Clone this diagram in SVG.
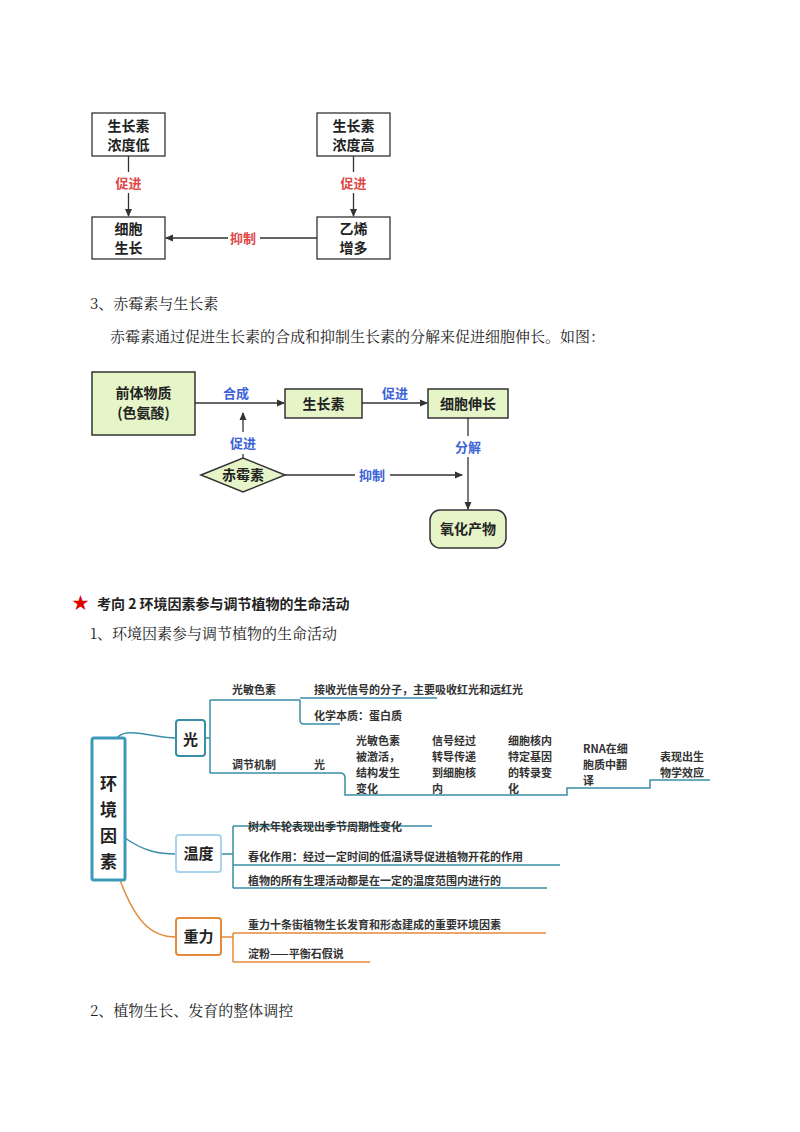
<svg xmlns="http://www.w3.org/2000/svg" width="800" height="1132" viewBox="0 0 800 1132">
<defs>
<marker id="ah" markerWidth="8" markerHeight="8" refX="7" refY="4" orient="auto" markerUnits="userSpaceOnUse"><path d="M0,0.5 L8,4 L0,7.5 Z" fill="#333"/></marker>
<style>
text{font-family:"Noto Sans CJK SC","Liberation Sans",sans-serif;fill:#222}
.b{font-weight:bold}
.box{fill:#fff;stroke:#333;stroke-width:1.3}
.g{fill:#e6f5c8;stroke:#333;stroke-width:1.5}
.ln{stroke:#333;stroke-width:1.3;fill:none}
.red{fill:#e04848;font-size:13px;font-weight:bold}
.blue{fill:#3d63d8;font-size:13px;font-weight:bold}
.t{stroke:#3a8fa8;stroke-width:1.5;fill:none}
.o{stroke:#e58a3b;stroke-width:1.5;fill:none}
.m{font-size:11px;font-weight:bold;fill:#333}
.body{font-family:"Noto Serif CJK SC","Liberation Serif","Noto Sans CJK SC",serif;font-size:15px}
</style>
</defs>
<g id="top">
<g id="n1"><rect class="box" x="92" y="113" width="73" height="43"/><text class="b" x="128.5" y="131" font-size="14" text-anchor="middle">生长素</text><text class="b" x="128.5" y="150" font-size="14" text-anchor="middle">浓度低</text></g>
<g id="n2"><rect class="box" x="317" y="113" width="73" height="43"/><text class="b" x="353.5" y="131" font-size="14" text-anchor="middle">生长素</text><text class="b" x="353.5" y="150" font-size="14" text-anchor="middle">浓度高</text></g>
<g id="n3"><rect class="box" x="92" y="217" width="73" height="42"/><text class="b" x="128.5" y="234" font-size="14" text-anchor="middle">细胞</text><text class="b" x="128.5" y="253" font-size="14" text-anchor="middle">生长</text></g>
<g id="n4"><rect class="box" x="317" y="217" width="73" height="42"/><text class="b" x="353.5" y="234" font-size="14" text-anchor="middle">乙烯</text><text class="b" x="353.5" y="253" font-size="14" text-anchor="middle">增多</text></g>
</g>
<g id="connectors">
<path class="ln" d="M128.5,156 V172 M128.5,193 V216" marker-end="url(#ah)"/>
<path class="ln" d="M353.5,156 V172 M353.5,193 V216" marker-end="url(#ah)"/>
<path class="ln" d="M317,238 H260 M228,238 H166" marker-end="url(#ah)"/>
<path class="ln" d="M195,403 H284" marker-end="url(#ah)"/>
<path class="ln" d="M362,403 H427" marker-end="url(#ah)"/>
<path class="ln" d="M243,458 V454 M243,432 V413" marker-end="url(#ah)"/>
<path class="ln" d="M285,475 H355 M390,475 H462" marker-end="url(#ah)"/>
<path class="ln" d="M468,418 V436 M468,457 V509" marker-end="url(#ah)"/>
</g>
<text class="red" x="128.5" y="188" text-anchor="middle">促进</text>
<text class="red" x="353.5" y="188" text-anchor="middle">促进</text>
<text class="red" x="243" y="243" text-anchor="middle">抑制</text>
<text class="body" x="90" y="309">3、赤霉素与生长素</text>
<text class="body" x="110" y="342">赤霉素通过促进生长素的合成和抑制生长素的分解来促进细胞伸长。如图：</text>
<g id="m1"><rect class="g" x="92" y="372" width="103" height="63"/><text class="b" x="143.5" y="398" font-size="14" text-anchor="middle">前体物质</text><text class="b" x="143.5" y="418" font-size="14" text-anchor="middle">(色氨酸)</text></g>
<g id="m2"><rect class="g" x="285" y="389" width="77" height="29"/><text class="b" x="323.5" y="409" font-size="14" text-anchor="middle">生长素</text></g>
<g id="m3"><rect class="g" x="428" y="389" width="80" height="29"/><text class="b" x="468" y="409" font-size="14" text-anchor="middle">细胞伸长</text></g>
<g id="m4"><path class="g" d="M201,475 L243,458 L285,475 L243,492 Z"/><text class="b" x="243" y="480" font-size="14" text-anchor="middle">赤霉素</text></g>
<g id="m5"><rect class="g" x="430" y="510" width="76" height="38" rx="10"/><text class="b" x="468" y="534" font-size="14" text-anchor="middle">氧化产物</text></g>
<text class="blue" x="236" y="398" text-anchor="middle">合成</text>
<text class="blue" x="395" y="398" text-anchor="middle">促进</text>
<text class="blue" x="243" y="448" text-anchor="middle">促进</text>
<text class="blue" x="372" y="480" text-anchor="middle">抑制</text>
<text class="blue" x="468" y="452" text-anchor="middle">分解</text>
<text x="72" y="609" font-size="17" fill="#e00000" style="fill:#e00000">★</text>
<text class="b" x="97" y="609" font-size="14">考向 2  环境因素参与调节植物的生命活动</text>
<text class="body" x="90" y="639">1、环境因素参与调节植物的生命活动</text>
<text class="body" x="90" y="1016">2、植物生长、发育的整体调控</text>
<g id="mindmap-lines">
<path class="t" d="M115,740 C125,725 150,738 176,738" stroke-width="3"/>
<path class="t" d="M125,838 C145,852 160,854 176,854" stroke-width="2.5"/>
<path class="o" d="M120,880 C135,920 150,937 176,937" stroke-width="2.5"/>
<path class="t" d="M205,738 H210 M210,700 V773 M210,700 H300 M210,773 H300 M300,700 V720 Q300,724 304,724 H340 M300,698 H437 M300,773 H340 Q345,773 345,778 V795 H567 V788 H650 V780 H710" stroke-width="1.2"/>
<path class="t" d="M221,854 H233 M233,826 V888 M233,826 H432 M233,865 H560 M233,888 H547" stroke-width="1.2"/>
<path class="o" d="M221,937 H233 M233,933 V962 M233,933 H546 M233,962 H370" stroke-width="1.2"/>
</g>
<g id="env"><rect x="92" y="738" width="33" height="142" rx="2" fill="#fff" stroke="#3a9ab8" stroke-width="3"/><text class="b" x="108.5" y="790" font-size="17" text-anchor="middle">环</text><text class="b" x="108.5" y="816" font-size="17" text-anchor="middle">境</text><text class="b" x="108.5" y="842" font-size="17" text-anchor="middle">因</text><text class="b" x="108.5" y="868" font-size="17" text-anchor="middle">素</text></g>
<g id="light"><rect x="176" y="720" width="29" height="36" rx="3" fill="#fff" stroke="#3a8fa8" stroke-width="2"/><text class="b" x="190.5" y="745" font-size="15" text-anchor="middle">光</text></g>
<g id="temp"><rect x="176" y="835" width="45" height="37" rx="3" fill="#fff" stroke="#a9d2ef" stroke-width="2"/><text class="b" x="198.5" y="859" font-size="15" text-anchor="middle">温度</text></g>
<g id="grav"><rect x="176" y="918" width="45" height="37" rx="3" fill="#fff" stroke="#e58a3b" stroke-width="2"/><text class="b" x="198.5" y="942" font-size="15" text-anchor="middle">重力</text></g>
<text class="m" x="232" y="694" font-size="12">光敏色素</text>
<text class="m" x="232" y="769" font-size="12">调节机制</text>
<text class="m" x="314" y="694">接收光信号的分子，主要吸收红光和远红光</text>
<text class="m" x="314" y="720">化学本质：蛋白质</text>
<text class="m" x="314" y="769">光</text>
<text class="m" x="356" y="745">光敏色素</text><text class="m" x="356" y="761">被激活，</text><text class="m" x="356" y="777">结构发生</text><text class="m" x="356" y="793">变化</text>
<text class="m" x="432" y="745">信号经过</text><text class="m" x="432" y="761">转导传递</text><text class="m" x="432" y="777">到细胞核</text><text class="m" x="432" y="793">内</text>
<text class="m" x="508" y="745">细胞核内</text><text class="m" x="508" y="761">特定基因</text><text class="m" x="508" y="777">的转录变</text><text class="m" x="508" y="793">化</text>
<text class="m" x="583" y="753">RNA在细</text><text class="m" x="583" y="769">胞质中翻</text><text class="m" x="583" y="785">译</text>
<text class="m" x="660" y="761">表现出生</text><text class="m" x="660" y="777">物学效应</text>
<text class="m" x="248" y="831">树木年轮表现出季节周期性变化</text>
<text class="m" x="248" y="861">春化作用：经过一定时间的低温诱导促进植物开花的作用</text>
<text class="m" x="248" y="885">植物的所有生理活动都是在一定的温度范围内进行的</text>
<text class="m" x="248" y="929">重力十条街植物生长发育和形态建成的重要环境因素</text>
<text class="m" x="248" y="958">淀粉——平衡石假说</text>
</svg>
